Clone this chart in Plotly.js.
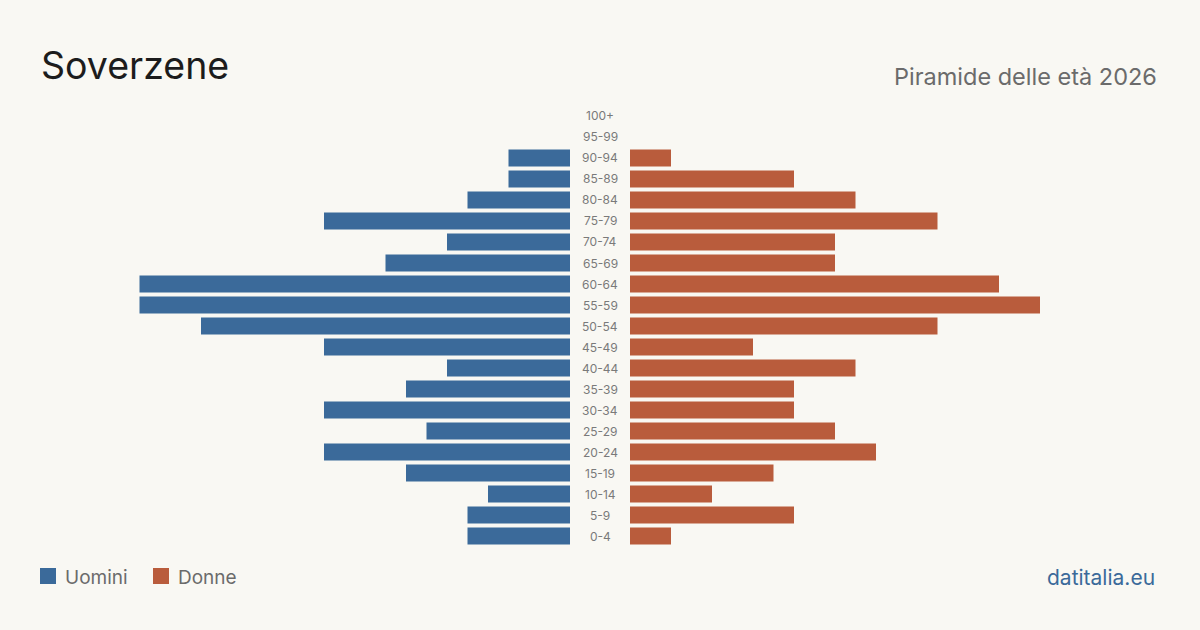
<!DOCTYPE html>
<html><head><meta charset="utf-8">
<script src="https://cdn.plot.ly/plotly-3.0.1.min.js"></script>
<style>html,body{margin:0;padding:0;background:#f9f8f3;}#chart{width:1200px;height:630px;}</style>
</head><body><div id="chart"></div>
<script>
const ageGroups = ["0-4","5-9","10-14","15-19","20-24","25-29","30-34","35-39","40-44","45-49","50-54","55-59","60-64","65-69","70-74","75-79","80-84","85-89","90-94","95-99","100+"];
const men   = [5,5,4,8,12,7,12,8,6,12,18,21,21,9,6,12,5,3,3,0,0];
const women = [2,8,4,7,12,10,8,8,11,6,15,20,18,10,10,15,11,8,2,0,0];
const seriesNames = ["Uomini","Donne"];
const colors = ["#3b6a9a","#b95c3c"];

const W = 1200, H = 630;
const R = 25, pxPerUnit = 20.5;
const leftEnd = 570, rightStart = 630;

const traces = [
  {type:'bar', orientation:'h', y: ageGroups, x: men, xaxis:'x', yaxis:'y', marker:{color:colors[0]}, name:seriesNames[0], hoverinfo:'x+y'},
  {type:'bar', orientation:'h', y: ageGroups, x: women, xaxis:'x2', yaxis:'y', marker:{color:colors[1]}, name:seriesNames[1], hoverinfo:'x+y'}
];

const font = "Inter, 'Liberation Sans', sans-serif";
const annotations = ageGroups.map(g => ({
  xref:'paper', yref:'y', x: 600/W, y: g, text: g, showarrow:false,
  xanchor:'center', yanchor:'middle', font:{family:font, size:12, color:'#7a7a7a'}
}));
annotations.push(
  {xref:'paper', yref:'paper', x:39/W, y:1-66/H, text:'Soverzene', showarrow:false, xanchor:'left', yanchor:'middle', font:{family:font, size:37.5, color:'#1c1c1c'}},
  {xref:'paper', yref:'paper', x:1159/W, y:1-76/H, text:'Piramide delle età 2026', showarrow:false, xanchor:'right', yanchor:'middle', font:{family:font, size:23.5, color:'#6b6b6b'}},
  {xref:'paper', yref:'paper', x:63/W, y:1-577/H, text:seriesNames[0], showarrow:false, xanchor:'left', yanchor:'middle', font:{family:font, size:19, color:'#6b6b6b'}},
  {xref:'paper', yref:'paper', x:176/W, y:1-577/H, text:seriesNames[1], showarrow:false, xanchor:'left', yanchor:'middle', font:{family:font, size:19, color:'#6b6b6b'}},
  {xref:'paper', yref:'paper', x:1157/W, y:1-577/H, text:'datitalia.eu', showarrow:false, xanchor:'right', yanchor:'middle', font:{family:font, size:21, color:'#3b6a9a'}}
);
const shapes = [
  {type:'rect', xref:'paper', yref:'paper', x0:40/W, x1:56/W, y0:1-584/H, y1:1-568/H, fillcolor:colors[0], line:{width:0}},
  {type:'rect', xref:'paper', yref:'paper', x0:153/W, x1:169/W, y0:1-584/H, y1:1-568/H, fillcolor:colors[1], line:{width:0}}
];

const layout = {
  width:W, height:H, margin:{l:0,r:0,t:0,b:0},
  paper_bgcolor:'#f9f8f3', plot_bgcolor:'rgba(0,0,0,0)',
  showlegend:false, bargap:0.19,
  xaxis:{domain:[(leftEnd-R*pxPerUnit)/W, leftEnd/W], range:[R,0], showgrid:false, zeroline:false, showticklabels:false, fixedrange:true},
  xaxis2:{domain:[rightStart/W, (rightStart+R*pxPerUnit)/W], range:[0,R], anchor:'y', showgrid:false, zeroline:false, showticklabels:false, fixedrange:true},
  yaxis:{domain:[1-546.5/H, 1-105.5/H], range:[-0.5,20.5], type:'category', categoryorder:'array', categoryarray:ageGroups, showticklabels:false, showgrid:false, zeroline:false, fixedrange:true},
  annotations, shapes
};
Plotly.newPlot('chart', traces, layout, {displayModeBar:false, staticPlot:true});
</script></body></html>
